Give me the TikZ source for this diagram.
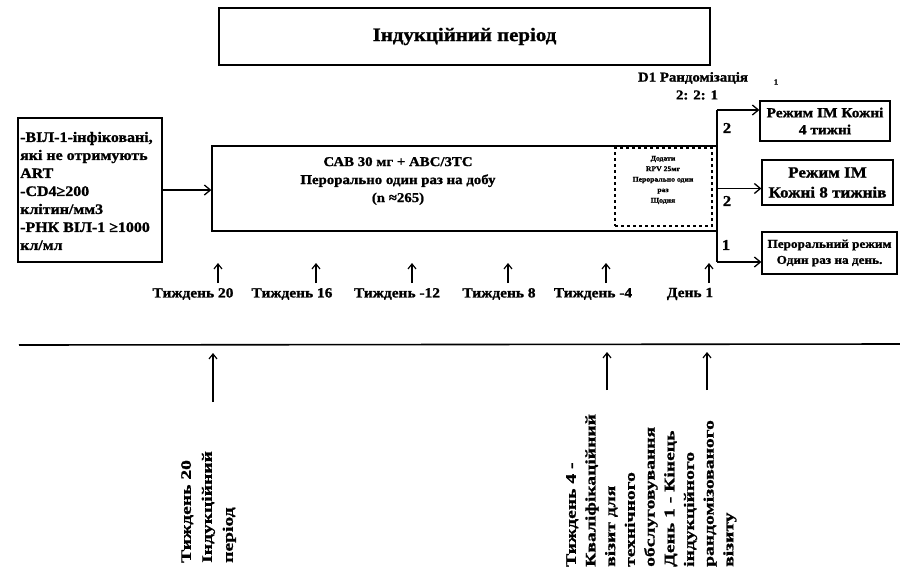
\documentclass[tikz,border=0pt]{standalone}
\usepackage{fontspec}
\setmainfont{Liberation Serif}[FakeStretch=1.1, BoldFeatures={FakeBold=1.2}]
\newfontfamily\lowfont{Liberation Serif}[FakeStretch=1.35, BoldFeatures={FakeBold=1.2}]
\usetikzlibrary{arrows.meta}
\tikzset{
  box/.style={draw, line width=1.3pt, inner sep=0pt, align=center},
  dbox/.style={draw, dashed, line width=1.2pt, inner sep=0pt},
  arr/.style={line width=1.3pt, -{Straight Barb[length=6pt,width=10pt,line width=1.3pt]}},
  uparr/.style={line width=1.2pt, -{Straight Barb[length=5pt,width=8pt,line width=1.2pt]}},
  lbl/.style={inner sep=0pt, font=\fontsize{14}{16}\selectfont\bfseries},
  rot/.style={rotate=90, anchor=north west, align=left, inner sep=0pt},
}
\begin{document}
\begin{tikzpicture}[x=1pt,y=-1pt]
\useasboundingbox (0,0) rectangle (900,571);

% title
\node[box, minimum width=491pt, minimum height=57pt,
      font=\fontsize{19}{22}\selectfont\bfseries] (title) at (464.5,36.5) {Індукційний період};

% criteria box
\node[box, minimum width=144pt, minimum height=144pt] (crit) at (90,190) {};
\node[inner sep=0pt, align=left, anchor=west,
      font=\fontsize{14.5}{18}\selectfont\bfseries] (crittxt) at (20,191)
  {-ВІЛ-1-інфіковані,\\які не отримують\\ART\\-CD4≥200\\клітин/мм3\\-РНК ВІЛ-1 ≥1000\\кл/мл};

% main box
\node[box, minimum width=505pt, minimum height=85pt] (main) at (464.5,188.5) {};
\node[inner sep=0pt, align=center, font=\fontsize{13.5}{18}\selectfont\bfseries] (maintxt) at (398,181)
  {САВ 30 мг + АВС/3ТС\\Перорально один раз на добу\\(n ≈265)};

% dashed RPV box
\node[dbox, minimum width=97pt, minimum height=78pt] (rpv) at (663.5,187) {};
\node[inner sep=0pt, align=center, font=\fontsize{7}{10.5}\selectfont\bfseries] (rpvtxt) at (663,180)
  {Додати\\RPV 25мг\\Перорально один\\раз\\Щодня};

% connector criteria -> main
\draw[arr] (crit.east) -- (main.west |- crit.east);

% randomisation labels
\node[inner sep=0pt, font=\fontsize{13.5}{16}\selectfont\bfseries] (rand) at (693,78) {D1 Рандомізація};
\node[inner sep=0pt, font=\fontsize{8}{9}\selectfont\bfseries] (small1) at (776,82) {1};
\node[inner sep=0pt, font=\fontsize{13.5}{16}\selectfont\bfseries] (ratio) at (697,95) {2: 2: 1};

% arms
\node[box, minimum width=130pt, minimum height=40pt,
      font=\fontsize{14}{17}\selectfont\bfseries] (r1) at (825,121) {Режим ІМ Кожні\\4 тижні};
\node[box, minimum width=131pt, minimum height=45pt,
      font=\fontsize{15.5}{20}\selectfont\bfseries] (r2) at (827.5,182.5) {Режим ІМ\\Кожні 8 тижнів};
\node[box, minimum width=135pt, minimum height=42pt,
      font=\fontsize{12}{16}\selectfont\bfseries] (r3) at (829.5,253) {Пероральний режим\\Один раз на день.};

\coordinate (bt) at (717,110);
\coordinate (bb) at (717,262);
\draw[line width=1.3pt] (bt) -- (bb);
\draw[arr] (bt) -- (r1.west |- bt);
\draw[arr] (main.east) -- (r2.west |- main.east);
\draw[arr] (bb) -- (r3.west |- bb);

\node[inner sep=0pt, font=\fontsize{15}{17}\selectfont\bfseries] (n1) at (727,128) {2};
\node[inner sep=0pt, font=\fontsize{15}{17}\selectfont\bfseries] (n2) at (727,201) {2};
\node[inner sep=0pt, font=\fontsize{15}{17}\selectfont\bfseries] (n3) at (726,245) {1};

% timeline arrows and labels
\foreach \i/\x in {1/218,2/316,3/412,4/508,5/606,6/709}{
  \coordinate (ta\i) at (\x,283);
  \coordinate (tb\i) at (\x,263);
  \draw[uparr] (ta\i) -- (tb\i);
}
\node[lbl] (l1) at (193,294) {Тиждень 20};
\node[lbl] (l2) at (292,294) {Тиждень 16};
\node[lbl] (l3) at (397,294) {Тиждень -12};
\node[lbl] (l4) at (499,294) {Тиждень 8};
\node[lbl] (l5) at (593,294) {Тиждень -4};
\node[lbl] (l6) at (690,294) {День 1};

% lower section
\coordinate (hl) at (19,345);
\coordinate (hr) at (900,344);
\draw[line width=1.6pt] (hl) -- (hr);

\coordinate (a1s) at (213,402); \coordinate (a1e) at (213,353);
\coordinate (a2s) at (607,390); \coordinate (a2e) at (607,352);
\coordinate (a3s) at (707,390); \coordinate (a3e) at (707,352);
\draw[uparr] (a1s) -- (a1e);
\draw[uparr] (a2s) -- (a2e);
\draw[uparr] (a3s) -- (a3e);

\node[rot, font=\lowfont\fontsize{14.5}{21}\selectfont\bfseries] (g1) at (181,563)
  {Тиждень 20\\Індукційний\\період};
\node[rot, font=\lowfont\fontsize{14.5}{19.7}\selectfont\bfseries] (g2) at (566,567)
  {Тиждень 4 -\\Кваліфікаційний\\візит для\\технічного\\обслуговування\\День 1 - Кінець\\індукційного\\рандомізованого\\візиту};
\end{tikzpicture}
\end{document}
